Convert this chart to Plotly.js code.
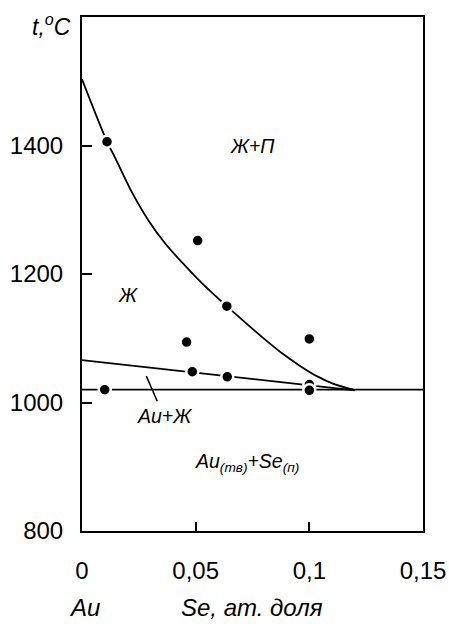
<!DOCTYPE html>
<html>
<head>
<meta charset="utf-8">
<script src="https://cdn.plot.ly/plotly-3.0.1.min.js"></script>
<style>html,body{margin:0;padding:0;background:#fff;}#chart{width:449px;height:627px;}</style>
</head>
<body>
<div id="chart"></div>
<script>
// Liquidus curve
const liqX = [0, 0.011, 0.0147, 0.022, 0.0293, 0.0367, 0.044, 0.0513, 0.0587, 0.0637, 0.0739, 0.0812, 0.0886, 0.0959, 0.1033, 0.1106, 0.1194];
const liqY = [1503, 1406, 1380, 1327, 1283, 1247, 1218, 1191, 1166, 1150, 1118, 1096, 1075, 1057, 1041, 1029, 1020];
// Sloped line (upper boundary of Au + Ж)
const upX = [0, 0.12];
const upY = [1066, 1019];
// Horizontal line
const horX = [0, 0.15];
const horY = [1020, 1020];
// Experimental points
const ptX = [0.011, 0.01, 0.046, 0.0485, 0.0509, 0.0637, 0.0639, 0.1, 0.1, 0.1];
const ptY = [1406, 1020, 1094, 1048, 1252, 1150, 1040, 1099, 1028, 1019];
// Pointer line for "Au+Ж"
const ptrX = [0.0283, 0.0331];
const ptrY = [1041, 1002];
// Ticks
const xTickVals = [0, 0.05, 0.1, 0.15];
const xTickText = ["0", "0,05", "0,1", "0,15"];
const yTickVals = [800, 1000, 1200, 1400];
const yTickText = ["800", "1000", "1200", "1400"];

const FONT = 'Liberation Sans, Arial, sans-serif';
const lineStyle = {color: '#000', width: 1.8};
const traces = [
  {x: liqX, y: liqY, mode: 'lines', line: Object.assign({shape: 'spline', smoothing: 0.8}, lineStyle), hoverinfo: 'skip'},
  {x: upX, y: upY, mode: 'lines', line: lineStyle, hoverinfo: 'skip'},
  {x: horX, y: horY, mode: 'lines', line: lineStyle, hoverinfo: 'skip'},
  {x: ptrX, y: ptrY, mode: 'lines', line: {color: '#000', width: 1.5}, hoverinfo: 'skip'},
  {x: ptX, y: ptY, mode: 'markers', marker: {color: '#000', size: 12, line: {color: '#fff', width: 2.5}}, cliponaxis: false}
];

const italic = {family: FONT, size: 19.5, color: '#000', style: 'italic'};
const layout = {
  width: 449, height: 627,
  margin: {l: 82, r: 26, t: 17, b: 96},
  paper_bgcolor: '#fff', plot_bgcolor: '#fff',
  showlegend: false,
  xaxis: {
    range: [0, 0.15], showgrid: false, zeroline: false,
    showline: true, linecolor: '#000', linewidth: 2, mirror: true,
    ticks: 'inside', ticklen: 9, tickwidth: 2, tickcolor: '#000',
    tickvals: xTickVals, ticktext: xTickText,
    ticklabelstandoff: 17,
    tickfont: {family: FONT, size: 24, color: '#000'}
  },
  yaxis: {
    range: [800, 1600], showgrid: false, zeroline: false,
    showline: true, linecolor: '#000', linewidth: 2, mirror: true,
    ticks: 'inside', ticklen: 10, tickwidth: 2, tickcolor: '#000',
    tickvals: yTickVals, ticktext: yTickText,
    ticklabelstandoff: 12,
    tickfont: {family: FONT, size: 24, color: '#000'}
  },
  annotations: [
    {xref: 'x', yref: 'y', x: 0.0752, y: 1400, text: 'Ж+П', showarrow: false, xanchor: 'center', yanchor: 'middle', font: italic},
    {xref: 'x', yref: 'y', x: 0.0202, y: 1168, text: 'Ж', showarrow: false, xanchor: 'center', yanchor: 'middle', font: italic},
    {xref: 'x', yref: 'y', x: 0.0365, y: 979, text: 'Au+Ж', showarrow: false, xanchor: 'center', yanchor: 'middle', font: italic},
    {xref: 'x', yref: 'y', x: 0.0726, y: 906, text: 'Au<sub>(тв)</sub>+Se<sub>(п)</sub>', showarrow: false, xanchor: 'center', yanchor: 'middle', font: italic},
    {xref: 'paper', yref: 'paper', x: 0.006, y: -0.148, text: 'Au', showarrow: false, xanchor: 'center', yanchor: 'middle',
     font: {family: FONT, size: 24, color: '#000', style: 'italic'}},
    {xref: 'paper', yref: 'paper', x: 0.4985, y: -0.148, text: 'Se, ат. доля', showarrow: false, xanchor: 'center', yanchor: 'middle',
     font: {family: FONT, size: 24, color: '#000', style: 'italic'}},
    {xref: 'paper', yref: 'paper', x: -0.0894, y: 0.984, text: 't,<sup>o</sup>C', showarrow: false, xanchor: 'center', yanchor: 'middle',
     font: {family: FONT, size: 23, color: '#000', style: 'italic'}}
  ]
};
Plotly.newPlot('chart', traces, layout, {displayModeBar: false, staticPlot: true});
</script>
</body>
</html>
